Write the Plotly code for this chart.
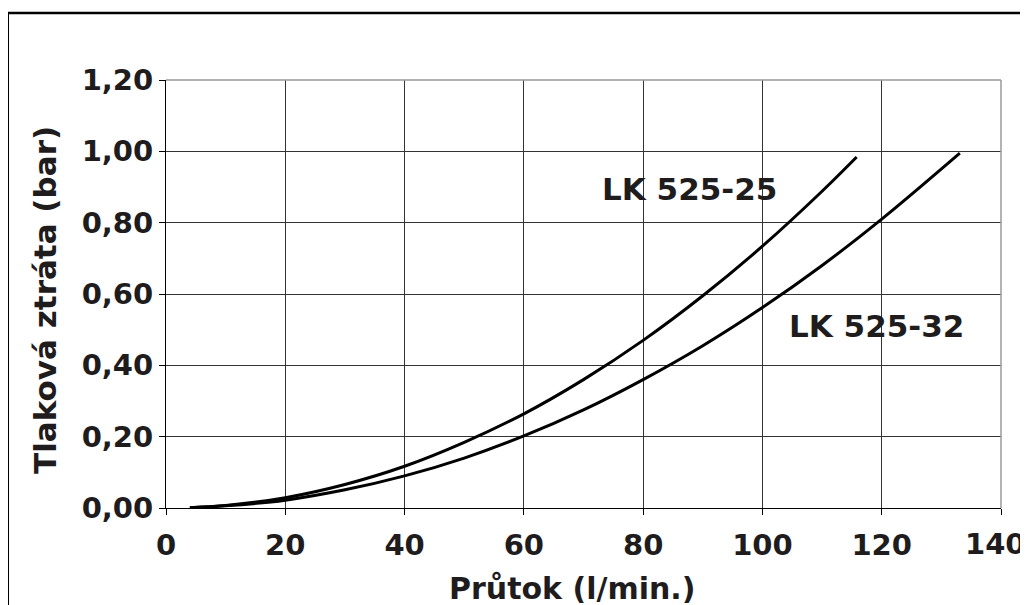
import plotly.graph_objects as go

# Data
q_25 = [4, 10, 20, 30, 40, 50, 60, 70, 80, 90, 100, 110, 115.8]
dp_25 = [0.001, 0.007, 0.029, 0.066, 0.117, 0.184, 0.264, 0.36, 0.47, 0.595, 0.734, 0.888, 0.984]
q_32 = [4, 10, 20, 30, 40, 50, 60, 70, 80, 90, 100, 110, 120, 133.1]
dp_32 = [0.001, 0.006, 0.022, 0.051, 0.09, 0.14, 0.202, 0.275, 0.36, 0.455, 0.562, 0.68, 0.81, 0.995]

x_ticks = [0, 20, 40, 60, 80, 100, 120, 140]
x_labels = ["0", "20", "40", "60", "80", "100", "120", "140"]
y_ticks = [0, 0.2, 0.4, 0.6, 0.8, 1.0, 1.2]
y_labels = ["0,00", "0,20", "0,40", "0,60", "0,80", "1,00", "1,20"]

series_names = ["LK 525-25", "LK 525-32"]
label_pos = [(87.7, 0.894), (119.1, 0.51)]
x_title = "Průtok (l/min.)"
y_title = "Tlaková ztráta (bar)"

FONT = "DejaVu Sans"
TXT = "#1f1c1d"

fig = go.Figure()
fig.add_trace(go.Scatter(x=q_25, y=dp_25, mode="lines", name=series_names[0],
                         line=dict(color="black", width=3, shape="spline")))
fig.add_trace(go.Scatter(x=q_32, y=dp_32, mode="lines", name=series_names[1],
                         line=dict(color="black", width=3, shape="spline")))

for name, (lx, ly) in zip(series_names, label_pos):
    fig.add_annotation(x=lx, y=ly, text=name, showarrow=False,
                       font=dict(family=FONT, size=31, color=TXT, weight="bold"))

axis_font = dict(family=FONT, size=29, color=TXT, weight="bold")
title_font = dict(family=FONT, size=30, color=TXT, weight="bold")

# the last x label is nudged left in the original so it fits inside the page:
# draw it as an annotation anchored at its tick value
shown_x_labels = x_labels[:-1] + [""]

fig.update_xaxes(range=[0, 140], tickvals=x_ticks, ticktext=shown_x_labels,
                 showgrid=True, gridcolor="#333333", gridwidth=1,
                 zeroline=False, showline=True, linecolor="black", linewidth=1,
                 ticks="outside", ticklen=6, tickcolor="black",
                 tickfont=axis_font, ticklabelstandoff=5, automargin=False,
                 ticklabeloverflow="allow")
fig.update_yaxes(range=[0, 1.2], tickvals=y_ticks, ticktext=y_labels,
                 showgrid=True, gridcolor="#333333", gridwidth=1,
                 zeroline=False, showline=True, linecolor="black", linewidth=1,
                 ticks="outside", ticklen=6, tickcolor="black",
                 tickfont=axis_font, automargin=False,
                 ticklabeloverflow="allow")

fig.add_annotation(x=x_ticks[-1], xref="x", yref="paper", y=0, text=x_labels[-1],
                   showarrow=False, xanchor="center", yanchor="top",
                   xshift=-6, yshift=-17, font=axis_font)

# axis titles
fig.add_annotation(xref="paper", yref="paper", x=0.486, y=-0.187, text=x_title,
                   showarrow=False, xanchor="center", yanchor="middle",
                   font=title_font)
fig.add_annotation(xref="paper", yref="paper", x=-0.145, y=0.486, text=y_title,
                   showarrow=False, xanchor="center", yanchor="middle",
                   textangle=-90, font=dict(family=FONT, size=31, color=TXT, weight="bold"))

# gray outer edges of plot area (top and right)
fig.add_shape(type="line", xref="paper", yref="paper", x0=0, x1=1, y0=1, y1=1,
              line=dict(color="#9a9a9a", width=1.5))
fig.add_shape(type="line", xref="paper", yref="paper", x0=1, x1=1, y0=0, y1=1,
              line=dict(color="#9a9a9a", width=1.5))
# outer frame around figure
fig.add_shape(type="rect", xref="paper", yref="paper",
              x0=-0.1895, x1=1.06, y0=-0.26, y1=1.1565,
              line=dict(color="black", width=2.5))

# page body has an 8px margin, so the figure is sized to fill the rest of the window
fig.update_layout(width=1020, height=597,
                  margin=dict(l=158, r=27, t=72, b=97),
                  plot_bgcolor="white", paper_bgcolor="white",
                  showlegend=False)

fig.write_html("out.html")
